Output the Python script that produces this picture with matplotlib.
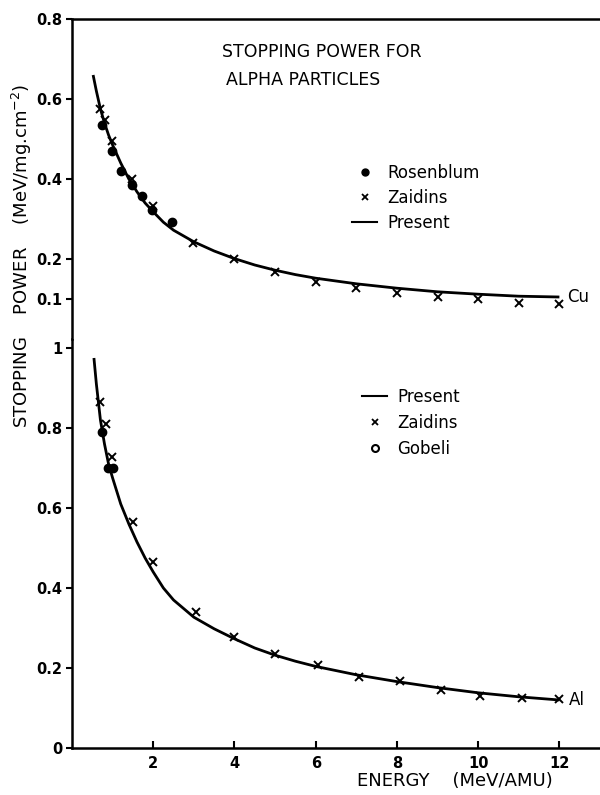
import matplotlib
matplotlib.use("Agg")
import matplotlib.pyplot as plt
from matplotlib.lines import Line2D

plt.rcParams['font.family'] = ['DejaVu Sans']

# --- Cu (upper panel) ---
cu_curve_e = [0.52, 0.6, 0.7, 0.8, 0.9, 1.0, 1.2, 1.4, 1.6, 1.8, 2.0, 2.25, 2.5, 3.0, 3.5,
              4.0, 4.5, 5.0, 5.5, 6.0, 7.0, 8.0, 9.0, 10.0, 11.0, 12.0]
cu_curve_s = [0.66, 0.62, 0.575, 0.54, 0.51, 0.485, 0.44, 0.40, 0.368, 0.34, 0.318, 0.292, 0.272, 0.243, 0.22,
              0.201, 0.185, 0.172, 0.161, 0.152, 0.138, 0.127, 0.118, 0.112, 0.107, 0.105]
cu_rosen_e = [0.74, 0.99, 1.21, 1.48, 1.72, 1.97, 2.46]
cu_rosen_s = [0.535, 0.47, 0.42, 0.385, 0.358, 0.322, 0.293]
cu_zaid_e = [0.69, 0.81, 0.99, 1.48, 2.0, 2.98, 3.99, 5.0, 6.0, 7.0, 8.0, 9.0, 10.0, 11.0, 12.0]
cu_zaid_s = [0.575, 0.548, 0.495, 0.40, 0.333, 0.24, 0.20, 0.168, 0.143, 0.127, 0.115, 0.105, 0.10, 0.09, 0.088]

# --- Al (lower panel) ---
al_curve_e = [0.54, 0.6, 0.7, 0.8, 0.9, 1.0, 1.2, 1.4, 1.6, 1.8, 2.0, 2.25, 2.5, 3.0, 3.5,
              4.0, 4.5, 5.0, 5.5, 6.0, 7.0, 8.0, 9.0, 10.0, 11.0, 12.0]
al_curve_s = [0.975, 0.91, 0.82, 0.76, 0.71, 0.675, 0.61, 0.56, 0.515, 0.475, 0.44, 0.40, 0.37, 0.327, 0.298,
              0.273, 0.25, 0.232, 0.217, 0.204, 0.183, 0.166, 0.151, 0.138, 0.128, 0.12]
al_zaid_e = [0.69, 0.84, 0.99, 1.5, 2.0, 3.05, 4.0, 5.0, 6.06, 7.07, 8.08, 9.08, 10.05, 11.08, 12.0]
al_zaid_s = [0.865, 0.81, 0.727, 0.565, 0.465, 0.34, 0.278, 0.235, 0.208, 0.178, 0.168, 0.145, 0.13, 0.125, 0.122]
al_gob_e = [0.74, 0.88, 1.02]
al_gob_s = [0.79, 0.70, 0.70]

x_ticks = [2, 4, 6, 8, 10, 12]
cu_ticks = [0.1, 0.2, 0.4, 0.6, 0.8]
cu_labels = ['0.1', '0.2', '0.4', '0.6', '0.8']
al_ticks = [0, 0.2, 0.4, 0.6, 0.8, 1.0]
al_labels = ['0', '0.2', '0.4', '0.6', '0.8', '1']

fig = plt.figure(figsize=(6, 7.95), dpi=100)
W, H = 600, 795
ax_al = fig.add_axes([72 / W, 1 - 748 / H, 1 - 72 / W, (748 - 339) / H])
ax_cu = fig.add_axes([72 / W, 1 - 339 / H, 1 - 72 / W, (339 - 19) / H], sharex=ax_al)

lw = 2.0
ms = 6
for ax in (ax_cu, ax_al):
    ax.spines['right'].set_visible(False)
    ax.spines['left'].set_linewidth(1.8)
    ax.tick_params(axis='y', direction='out', length=4, width=1.5, pad=3, labelsize=10.5)

ax_cu.spines['bottom'].set_visible(False)
ax_cu.spines['top'].set_linewidth(1.8)
ax_al.spines['top'].set_visible(False)
ax_al.spines['bottom'].set_linewidth(1.8)

ax_al.set_xlim(0, 13)
ax_al.set_ylim(0, 1.0225)
ax_cu.set_ylim(0, 0.8)

# Cu
ax_cu.plot(cu_curve_e, cu_curve_s, color='black', lw=lw, solid_capstyle='butt')
ax_cu.plot(cu_rosen_e, cu_rosen_s, 'o', color='black', ms=ms)
ax_cu.plot(cu_zaid_e, cu_zaid_s, 'x', color='black', ms=ms, mew=1.4)

# Al
ax_al.plot(al_curve_e, al_curve_s, color='black', lw=lw, solid_capstyle='butt')
ax_al.plot(al_zaid_e, al_zaid_s, 'x', color='black', ms=ms, mew=1.4)
ax_al.plot(al_gob_e, al_gob_s, 'o', color='black', ms=ms)

ax_cu.set_yticks(cu_ticks)
ax_cu.set_yticklabels(cu_labels, fontweight='bold')
ax_al.set_yticks(al_ticks)
ax_al.set_yticklabels(al_labels, fontweight='bold')

ax_al.set_xticks(x_ticks)
ax_al.set_xticklabels([str(t) for t in x_ticks], fontweight='bold')
ax_al.tick_params(axis='x', direction='in', length=5, width=1.5, pad=6, labelsize=10.5)
ax_cu.tick_params(axis='x', bottom=False, labelbottom=False)

# legends
h_dot = Line2D([], [], ls='none', marker='o', color='black', ms=5)
h_x = Line2D([], [], ls='none', marker='x', color='black', ms=5, mew=1.3)
h_line = Line2D([], [], color='black', lw=1.5)
h_open = Line2D([], [], ls='none', marker='o', mfc='white', mec='black', mew=1.5, ms=5)

ax_cu.legend([h_dot, h_x, h_line], ['Rosenblum', 'Zaidins', 'Present'],
             loc='upper left', bbox_to_anchor=(352 / W, 1 - 164 / H),
             bbox_transform=fig.transFigure, frameon=False, fontsize=12,
             handlelength=1.5, handletextpad=0.6, labelspacing=0.42,
             borderpad=0, borderaxespad=0)
ax_al.legend([h_line, h_x, h_open], ['Present', 'Zaidins', 'Gobeli'],
             loc='upper left', bbox_to_anchor=(362 / W, 1 - 388 / H),
             bbox_transform=fig.transFigure, frameon=False, fontsize=12,
             handlelength=1.5, handletextpad=0.6, labelspacing=0.48,
             borderpad=0, borderaxespad=0)

# title and labels
fig.text(222 / W, 1 - 52 / H, 'STOPPING POWER FOR', fontsize=12.5, va='center', ha='left')
fig.text(226 / W, 1 - 80 / H, 'ALPHA PARTICLES', fontsize=12.5, va='center', ha='left')
fig.text(567 / W, 1 - 297 / H, 'Cu', fontsize=12, va='center', ha='left')
fig.text(569 / W, 1 - 700 / H, 'Al', fontsize=12, va='center', ha='left')
fig.text(22 / W, 1 - 256 / H, 'STOPPING    POWER    (MeV/mg.cm$^{-2}$)',
         rotation=90, fontsize=13, va='center', ha='center')
fig.text(455 / W, 1 - 781 / H, 'ENERGY    (MeV/AMU)', fontsize=13, va='center', ha='center')

fig.savefig('out.png', dpi=100)
